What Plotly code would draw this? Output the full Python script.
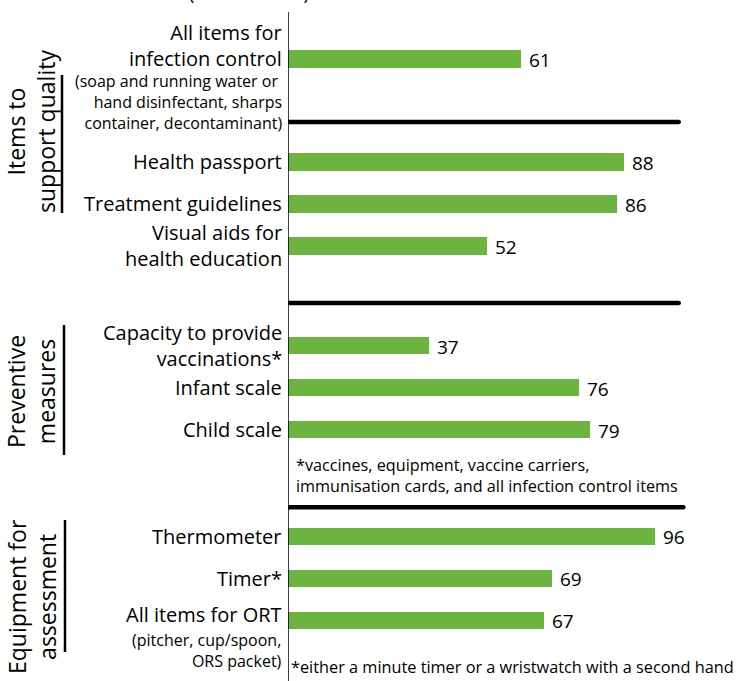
import plotly.graph_objects as go

# ---------------- data ----------------
categories = [
    "All items for<br>infection control",
    "Health passport",
    "Treatment guidelines",
    "Visual aids for<br>health education",
    "Capacity to provide<br>vaccinations*",
    "Infant scale",
    "Child scale",
    "Thermometer",
    "Timer*",
    "All items for ORT",
]
values = [61, 88, 86, 52, 37, 76, 79, 96, 69, 67]
sub_labels = {
    0: "(soap and running water or <br>hand disinfectant, sharps<br>container, decontaminant)",
    9: "(pitcher, cup/spoon,<br>ORS packet)",
}
groups = ["Items to<br>support quality", "Preventive<br>measures", "Equipment for<br>assessment"]
group_rows = [(0, 3), (4, 6), (7, 9)]
footnotes = [
    "*vaccines, equipment, vaccine carriers,<br>immunisation cards, and all infection control items",
    "*either a minute timer or a wristwatch with a second hand",
]
title_text = "(% of facilities)"

# ---------------- layout helpers ----------------
W, H = 736, 681
L = 288
SLOT = 42.0
TOP0 = 59.0  # pixel centre of first row
extra_gap = {1: 1.45, 4: 1.38, 7: 1.53}
pos = []
p = 0.0
for i in range(len(values)):
    if i > 0:
        p += 1 + extra_gap.get(i, 0)
    pos.append(p)

def px2slot(py):
    return (py - TOP0) / SLOT

def px2paper(px):
    return (px - L) / (W - L)

yr = [px2slot(H), px2slot(0)]
xmax = (W - L) / 3.823

GREEN = "#6db33f"
FONT = "Open Sans"

fig = go.Figure()
fig.add_trace(go.Bar(
    x=values, y=pos, orientation="h", width=0.41,
    marker=dict(color=GREEN, line=dict(width=0)),
    hoverinfo="skip",
))

ann = []
shapes = []
# category labels
for i, (c, v, y) in enumerate(zip(categories, values, pos)):
    yshift = 0
    if i == 0:
        yshift = 14
    if i == 9:
        yshift = 6
    ann.append(dict(x=0, xref="paper", y=y, yref="y", text=c, showarrow=False,
                    xanchor="right", yanchor="middle", xshift=-4, yshift=yshift,
                    align="right", font=dict(family=FONT, size=20, color="black")))
    ann.append(dict(x=v, xref="x", y=y, yref="y", text=str(v), showarrow=False,
                    xanchor="left", yanchor="middle", xshift=6, yshift=-1,
                    font=dict(family=FONT, size=19, color="black")))
for i, t in sub_labels.items():
    ys = -43 if i == 0 else -30
    ann.append(dict(x=0, xref="paper", y=pos[i], yref="y", text=t, showarrow=False,
                    xanchor="right", yanchor="middle", xshift=-4, yshift=ys,
                    align="right", font=dict(family=FONT, size=16, color="black")))

# group labels and their vertical rules
gx = [31, 31, 32]
gmid = [132, 392, 597]
for g, x, m in zip(groups, gx, gmid):
    ann.append(dict(x=px2paper(x), xref="paper", y=px2slot(m), yref="y", text=g, showarrow=False,
                    textangle=-90, xanchor="center", yanchor="middle",
                    font=dict(family=FONT, size=23, color="black")))
rule_x = [62, 64, 65]
rule_y = [(75, 213), (325, 455), (520, 652)]
for x, (y0, y1) in zip(rule_x, rule_y):
    shapes.append(dict(type="line", xref="paper", yref="y", x0=px2paper(x), x1=px2paper(x),
                       y0=px2slot(y0), y1=px2slot(y1), line=dict(color="black", width=2.5)))

# separators
seps = [(pos[0] + 1.5, 102.3), (pos[3] + 1.36, 102.3), (pos[6] + 1.84, 103.5)]
for y, x1 in seps:
    shapes.append(dict(type="line", xref="x", yref="y", x0=0, x1=x1, y0=y, y1=y,
                       line=dict(color="black", width=4.5)))
    shapes.append(dict(type="circle", xref="x", yref="y", x0=x1 - 0.5, x1=x1 + 0.5,
                       y0=y - 0.05, y1=y + 0.05, fillcolor="black", line=dict(width=0)))

# main vertical axis line
shapes.append(dict(type="line", xref="x", yref="y", x0=0, x1=0, y0=px2slot(12), y1=px2slot(H),
                   line=dict(color="black", width=1.5)))

# footnotes
ann.append(dict(x=0, xref="x", y=px2slot(475), yref="y", text=footnotes[0], showarrow=False,
                xanchor="left", yanchor="middle", xshift=6, align="left",
                font=dict(family=FONT, size=16.2, color="black")))
ann.append(dict(x=0, xref="x", y=px2slot(667), yref="y", text=footnotes[1], showarrow=False,
                xanchor="left", yanchor="middle", xshift=1, align="left",
                font=dict(family=FONT, size=16.3, color="black")))
# cut-off title
ann.append(dict(x=px2paper(249), xref="paper", y=1, yref="paper", text=title_text,
                showarrow=False, xanchor="center", yanchor="bottom", yshift=-7,
                font=dict(family=FONT, size=18, color="black")))

fig.update_layout(
    width=W, height=H,
    margin=dict(l=L, r=0, t=0, b=0, pad=0, autoexpand=False),
    plot_bgcolor="white", paper_bgcolor="white",
    showlegend=False,
    xaxis=dict(range=[0, xmax], visible=False, fixedrange=True),
    yaxis=dict(range=yr, visible=False, fixedrange=True),
    annotations=ann, shapes=shapes,
    bargap=0,
)
fig.write_html("out.html", config={"displayModeBar": False},
               post_script="document.body.style.margin='0';document.body.style.overflow='hidden';")
